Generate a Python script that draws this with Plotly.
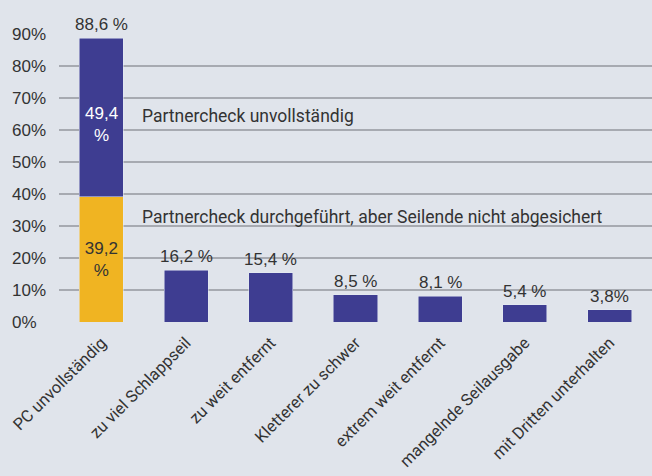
import plotly.graph_objects as go

categories = ["PC unvollständig", "zu viel Schlappseil", "zu weit entfernt",
              "Kletterer zu schwer", "extrem weit entfernt",
              "mangelnde Seilausgabe", "mit Dritten unterhalten"]
pc_done_not_secured = [39.2, None, None, None, None, None, None]
main_values = [49.4, 16.2, 15.4, 8.5, 8.1, 5.4, 3.8]
totals = [88.6, 16.2, 15.4, 8.5, 8.1, 5.4, 3.8]
total_labels = ["88,6 %", "16,2 %", "15,4 %", "8,5 %", "8,1 %", "5,4 %", "3,8%"]
yellow_inner = ["39,2<br>%", "", "", "", "", "", ""]
blue_inner_label = "49,4<br>%"
tick_vals = [0, 10, 20, 30, 40, 50, 60, 70, 80, 90]
tick_text = ["0%\u00a0\u00a0", "10%", "20%", "30%", "40%", "50%", "60%", "70%", "80%", "90%"]
grid_vals = [0, 10, 20, 30, 40, 50, 60, 70, 80]
note_upper = "Partnercheck unvollständig"
note_lower = "Partnercheck durchgeführt, aber Seilende nicht abgesichert"

BLUE = "#3e3d91"
YELLOW = "#f0b422"
BG = "#e0e4eb"
GRID = "#a7aab1"
TXT = "#333333"
NUMFONT = "Liberation Sans, Arial, sans-serif"
LBLFONT = "Roboto, sans-serif"

fig = go.Figure()
fig.add_trace(go.Bar(
    x=categories, y=pc_done_not_secured, marker_color=YELLOW,
    text=yellow_inner, textposition="inside", insidetextanchor="middle",
    textangle=0, constraintext="none",
    textfont=dict(family=NUMFONT, size=17, color=TXT),
    hoverinfo="skip"))
fig.add_trace(go.Bar(
    x=categories, y=main_values, marker_color=BLUE,
    hoverinfo="skip"))
# grid-only overlay axis (no line at 90%)
fig.add_trace(go.Scatter(x=categories, y=[None] * len(categories), yaxis="y2",
                         hoverinfo="skip", showlegend=False))

# label inside the blue segment of the first bar
fig.add_annotation(x=categories[0], y=pc_done_not_secured[0] + main_values[0] / 2,
                   xref="x", yref="y", text=blue_inner_label, showarrow=False,
                   yanchor="middle", yshift=-7,
                   font=dict(family=NUMFONT, size=17, color="white"))

for cat, tot, lab in zip(categories, totals, total_labels):
    fig.add_annotation(x=cat, y=tot, xref="x", yref="y", text=lab,
                       showarrow=False, yanchor="bottom", yshift=2,
                       font=dict(family=NUMFONT, size=17, color=TXT))

fig.add_annotation(xref="paper", yref="y", x=0.137, y=64.4, xanchor="left",
                   yanchor="middle", text=note_upper, showarrow=False,
                   font=dict(family=LBLFONT, size=17.5, color=TXT))
fig.add_annotation(xref="paper", yref="y", x=0.137, y=32.8, xanchor="left",
                   yanchor="middle", text=note_lower, showarrow=False,
                   font=dict(family=LBLFONT, size=17.5, color=TXT))

fig.update_layout(
    width=652, height=476,
    margin=dict(l=59, r=0, t=34, b=154),
    paper_bgcolor=BG, plot_bgcolor=BG,
    barmode="stack", bargap=0.48,
    showlegend=False,
    xaxis=dict(tickangle=-45, showgrid=False, zeroline=False, showline=False,
               ticks="", ticklabelstandoff=7, automargin=False,
               tickfont=dict(family=LBLFONT, size=16.5, color=TXT)),
    yaxis=dict(range=[0, 90], tickvals=tick_vals, ticktext=tick_text,
               showgrid=False, zeroline=False, showline=False, ticks="",
               ticklabelstandoff=12, automargin=False,
               tickfont=dict(family=NUMFONT, size=17, color=TXT)),
    yaxis2=dict(range=[0, 90], overlaying="y", tickvals=grid_vals,
                showticklabels=False, showgrid=True, gridcolor=GRID,
                gridwidth=1.5, zeroline=False, showline=False, ticks="",
                automargin=False),
)

fig.write_html("out.html", config={"displayModeBar": False},
               post_script="document.body.style.margin='0';")
